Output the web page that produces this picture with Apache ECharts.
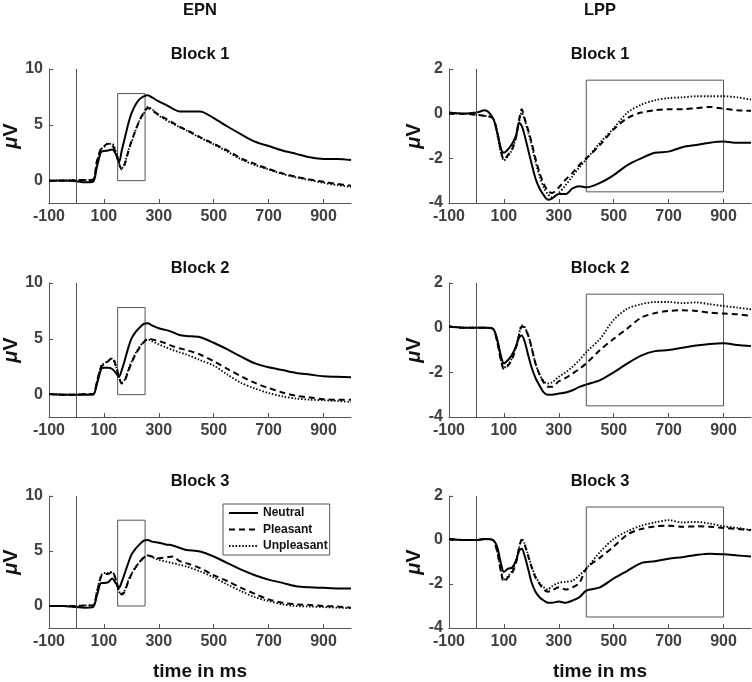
<!DOCTYPE html>
<html><head><meta charset="utf-8">
<script src="https://cdn.jsdelivr.net/npm/echarts@6/dist/echarts.min.js"></script>
<style>html,body{margin:0;padding:0;background:#fff}#c{width:752px;height:682px}</style>
</head><body><div id="c"></div>
<script>
// time points (ms)
const times = [-100,-50,0,30,60,75,90,100,115,130,145,155,165,175,190,200,215,230,245,260,275,300,325,350,375,400,450,500,550,600,650,700,750,800,850,900,950,1000];

// EPN
const epnB1Neutral    = [0,0.02,-0.05,-0.15,-0.1, 1.3,2.6,2.65,2.7,2.8, 2.3,1.65,2.7,3.7,5.2, 6.0,6.8,7.3,7.55,7.65, 7.45,7.1,6.8,6.45,6.2, 6.2,6.2,5.6,4.85,4.15, 3.5,3.1,2.7,2.4,2.1, 1.95,1.95,1.85];
const epnB1Pleasant   = [0,0,0.05,0.05,0.1, 1.8,2.9,3.1,3.3,3.2, 2.4,1.5,1.0,1.4,2.7, 3.5,4.5,5.4,6.1,6.5, 6.3,5.9,5.55,5.2,4.85, 4.55,3.9,3.3,2.7,2.0, 1.5,1.05,0.65,0.35,0.1, -0.1,-0.3,-0.45];
const epnB1Unpleasant = [0,0.03,0.05,0.05,0.1, 1.7,2.8,3.0,3.3,3.3, 2.5,1.6,1.1,1.5,2.8, 3.4,4.5,5.4,6.0,6.6, 6.4,5.85,5.45,5.1,4.8, 4.5,3.85,3.25,2.6,1.9, 1.4,1.0,0.6,0.3,0.05, -0.2,-0.4,-0.55];
const epnB2Neutral    = [0.05,0,0,0,0, 1.0,2.3,2.4,2.4,2.3, 1.9,1.6,2.2,3.0,4.3, 5.0,5.6,6.0,6.35,6.4, 6.2,5.95,5.8,5.6,5.35, 5.25,5.15,4.65,4.05,3.4, 2.8,2.45,2.2,1.95,1.8, 1.65,1.6,1.55];
const epnB2Pleasant   = [0.05,0,0,0.05,0.05, 1.2,2.5,2.7,3.0,3.3, 2.5,1.6,1.0,1.2,2.2, 2.8,3.6,4.2,4.7,5.0, 4.95,4.8,4.6,4.35,4.15, 4.0,3.6,3.0,2.3,1.65, 1.05,0.6,0.2,-0.1,-0.25, -0.4,-0.45,-0.45];
const epnB2Unpleasant = [0.05,0,0,0.05,0.05, 1.2,2.6,2.8,3.0,3.2, 2.4,1.5,1.1,1.3,2.3, 2.9,3.7,4.3,4.7,4.95, 4.8,4.5,4.25,4.0,3.8, 3.6,3.1,2.6,1.8,1.05, 0.55,0.15,-0.15,-0.35,-0.45, -0.5,-0.57,-0.65];
const epnB3Neutral    = [0,0,-0.1,-0.15,-0.1, 1.0,2.1,2.1,2.15,2.5, 2.0,1.65,2.2,2.9,4.0, 4.65,5.2,5.6,5.95,6.0, 5.85,5.75,5.6,5.5,5.3, 5.1,4.95,4.5,3.9,3.3, 2.8,2.4,2.1,1.8,1.7, 1.65,1.6,1.6];
const epnB3Pleasant   = [0,0,0,0.05,0.05, 1.3,2.7,2.9,2.9,3.1, 2.3,1.4,1.05,1.3,2.3, 2.85,3.5,4.0,4.4,4.6, 4.5,4.35,4.4,4.5,4.1, 3.9,3.45,2.8,2.25,1.65, 1.1,0.6,0.3,0.15,0.1, 0.0,-0.05,-0.15];
const epnB3Unpleasant = [0,0,0,0.05,0.05, 1.4,2.8,3.0,3.0,3.1, 2.2,1.3,1.15,1.4,2.4, 2.9,3.5,4.0,4.4,4.6, 4.45,4.2,4.05,3.9,3.75, 3.6,3.15,2.6,1.95,1.35, 0.8,0.45,0.15,0.0,-0.05, -0.1,-0.15,-0.2];

// LPP
const lppB1Neutral    = [0.05,0,0.05,0.15,-0.2, -0.8,-1.6,-1.75,-1.6,-1.35, -0.95,-0.4,-0.55,-0.95,-1.7, -2.2,-2.9,-3.35,-3.65,-3.85, -3.8,-3.6,-3.6,-3.35,-3.25, -3.3,-3.1,-2.75,-2.3,-2.0, -1.75,-1.7,-1.5,-1.4,-1.3, -1.25,-1.3,-1.3];
const lppB1Pleasant   = [0,0,-0.05,-0.1,-0.2, -0.8,-1.7,-2.05,-1.85,-1.6, -1.0,-0.3,0.2,-0.2,-0.8, -1.25,-2.0,-2.65,-3.15,-3.45, -3.55,-3.3,-2.95,-2.65,-2.3, -2.0,-1.4,-0.7,-0.2,0.05, 0.15,0.2,0.2,0.25,0.3, 0.22,0.15,0.13];
const lppB1Unpleasant = [0,0,-0.05,-0.1,-0.2, -0.9,-1.8,-2.1,-1.9,-1.6, -1.0,-0.4,0.05,-0.25,-0.9, -1.35,-2.15,-2.8,-3.3,-3.6, -3.75,-3.55,-3.2,-2.8,-2.4, -2.05,-1.3,-0.65,0.05,0.4, 0.6,0.7,0.73,0.78,0.78, 0.78,0.73,0.63];
const lppB2Neutral    = [0.05,0,0,0,-0.05, -0.5,-1.3,-1.6,-1.45,-1.2, -0.8,-0.45,-0.35,-0.6,-1.3, -1.75,-2.25,-2.6,-2.9,-3.0, -3.0,-2.95,-2.9,-2.8,-2.65, -2.55,-2.35,-2.0,-1.6,-1.25, -1.05,-1.0,-0.9,-0.8,-0.73, -0.7,-0.78,-0.82];
const lppB2Pleasant   = [0.05,0,0,0,-0.05, -0.6,-1.5,-1.85,-1.7,-1.4, -0.85,-0.35,0.05,0.0,-0.4, -0.85,-1.6,-2.1,-2.45,-2.65, -2.65,-2.4,-2.25,-2.05,-1.85, -1.6,-1.0,-0.5,-0.03,0.45, 0.65,0.75,0.78,0.75,0.67, 0.63,0.6,0.52];
const lppB2Unpleasant = [0.05,0,0,0,-0.05, -0.6,-1.5,-1.8,-1.65,-1.35, -0.8,-0.3,0.1,0.05,-0.4, -0.85,-1.6,-2.1,-2.4,-2.5, -2.45,-2.2,-2.0,-1.75,-1.45, -1.1,-0.5,0.35,0.85,1.05, 1.15,1.15,1.1,1.13,1.05, 0.97,0.9,0.82];
const lppB3Neutral    = [0.05,0,0,0.05,0, -0.3,-1.1,-1.45,-1.3,-1.25, -0.9,-0.5,-0.4,-0.7,-1.4, -1.9,-2.35,-2.6,-2.75,-2.85, -2.85,-2.8,-2.85,-2.75,-2.6, -2.3,-2.15,-1.75,-1.4,-1.05, -0.97,-0.85,-0.78,-0.68,-0.62, -0.65,-0.7,-0.75];
const lppB3Pleasant   = [0.05,0,0,0.05,0, -0.5,-1.5,-1.9,-1.7,-1.5, -1.0,-0.4,0.0,-0.2,-0.8, -1.2,-1.7,-2.0,-2.25,-2.35, -2.3,-2.15,-2.25,-2.15,-1.95, -1.3,-0.8,-0.3,0.25,0.5, 0.62,0.65,0.6,0.62,0.6, 0.55,0.5,0.45];
const lppB3Unpleasant = [0.05,0,0,0.05,0, -0.5,-1.4,-1.8,-1.65,-1.4, -0.9,-0.35,0.05,-0.15,-0.75, -1.15,-1.65,-1.95,-2.15,-2.25, -2.1,-1.95,-1.9,-1.85,-1.6, -1.3,-0.55,0.05,0.4,0.65, 0.8,0.9,0.8,0.82,0.75, 0.62,0.55,0.45];

// ticks and analysis windows [tStart, tEnd, vLow, vHigh]
const xTicks = [-100,100,300,500,700,900];
const epnYTicks = [0,5,10];
const lppYTicks = [-4,-2,0,2];
const epnWindow = [150,250,0,7.8];
const lppWindow = [400,900,-3.5,1.5];
const conditions = ['Neutral','Pleasant','Unpleasant'];
const blockTitles = ['Block 1','Block 2','Block 3'];

const panels = [
  {comp:'EPN', data:[epnB1Neutral,epnB1Pleasant,epnB1Unpleasant]},
  {comp:'LPP', data:[lppB1Neutral,lppB1Pleasant,lppB1Unpleasant]},
  {comp:'EPN', data:[epnB2Neutral,epnB2Pleasant,epnB2Unpleasant]},
  {comp:'LPP', data:[lppB2Neutral,lppB2Pleasant,lppB2Unpleasant]},
  {comp:'EPN', data:[epnB3Neutral,epnB3Pleasant,epnB3Unpleasant]},
  {comp:'LPP', data:[lppB3Neutral,lppB3Pleasant,lppB3Unpleasant]}
];

const FONT = 'Liberation Sans, Arial, sans-serif';
const AX = '#555';
const colLeft = [49, 449];
const rowTop = [69, 283, 496];
const gw = 302, gh = 134;
const lineStyles = [
  {color:'#000', width:2, type:'solid'},
  {color:'#000', width:2, type:[6,4]},
  {color:'#000', width:1.8, type:[1.5,1.8]}
];

const grids = [], xAxes = [], yAxes = [], series = [], graphics = [];
panels.forEach((p, i) => {
  const col = i % 2, row = Math.floor(i / 2);
  const isEpn = p.comp === 'EPN';
  grids.push({left: colLeft[col], top: rowTop[row], width: gw, height: gh});
  xAxes.push({
    gridIndex: i, type: 'value', min: -100, max: 1000,
    name: row === 2 ? 'time in ms' : '', nameLocation: 'middle', nameGap: 34,
    nameTextStyle: {fontFamily: FONT, fontWeight: 'bold', fontSize: 19, color: '#111'},
    axisLine: {show: true, onZero: false, lineStyle: {color: AX, width: 1}},
    axisTick: {show: true, inside: true, length: 4, customValues: xTicks, lineStyle: {color: AX}},
    axisLabel: {customValues: xTicks, color: '#404040', fontFamily: FONT, fontWeight: 'bold', fontSize: 16, margin: 6},
    splitLine: {show: false}
  });
  const yt = isEpn ? epnYTicks : lppYTicks;
  yAxes.push({
    gridIndex: i, type: 'value', min: isEpn ? -2 : -4, max: isEpn ? 10 : 2,
    name: '{i|μ}V', nameLocation: 'middle', nameGap: 22, nameRotate: 90,
    nameTextStyle: {fontFamily: FONT, fontWeight: 'bold', fontSize: 20, color: '#111',
      rich: {i: {fontFamily: FONT, fontWeight: 'bold', fontStyle: 'italic', fontSize: 20, color: '#111'}}},
    axisLine: {show: true, onZero: false, lineStyle: {color: AX, width: 1}},
    axisTick: {show: true, inside: true, length: 4, customValues: yt, lineStyle: {color: AX}},
    axisLabel: {customValues: yt, color: '#404040', fontFamily: FONT, fontWeight: 'bold', fontSize: 16, margin: 6},
    splitLine: {show: false}
  });
  const w = isEpn ? epnWindow : lppWindow;
  p.data.forEach((arr, k) => {
    const s = {
      type: 'line', name: conditions[k], xAxisIndex: i, yAxisIndex: i,
      data: times.map((t, j) => [t, arr[j]]),
      showSymbol: false, symbol: 'none', smooth: 0.3, silent: true,
      lineStyle: lineStyles[k], z: 3 + k
    };
    if (k === 0) {
      s.markLine = {silent: true, symbol: ['none','none'], label: {show: false},
        lineStyle: {color: AX, width: 1, type: 'solid'}, data: [{xAxis: 0}], animation: false};
      s.markArea = {silent: true, itemStyle: {color: 'rgba(0,0,0,0)', borderColor: AX, borderWidth: 1},
        data: [[{xAxis: w[0], yAxis: w[2]}, {xAxis: w[1], yAxis: w[3]}]]};
    }
    series.push(s);
  });
  graphics.push({type: 'text', x: colLeft[col] + gw / 2, y: rowTop[row] - 15,
    style: {text: blockTitles[row], font: 'bold 16.5px ' + FONT, fill: '#111', textAlign: 'center', textVerticalAlign: 'middle'}});
});
graphics.push({type: 'text', x: colLeft[0] + gw / 2, y: 10,
  style: {text: 'EPN', font: 'bold 16.5px ' + FONT, fill: '#111', textAlign: 'center', textVerticalAlign: 'middle'}});
graphics.push({type: 'text', x: colLeft[1] + gw / 2, y: 10,
  style: {text: 'LPP', font: 'bold 16.5px ' + FONT, fill: '#111', textAlign: 'center', textVerticalAlign: 'middle'}});

const chart = echarts.init(document.getElementById('c'), null, {renderer: 'canvas'});
chart.setOption({
  animation: false,
  backgroundColor: '#fff',
  grid: grids, xAxis: xAxes, yAxis: yAxes, series: series,
  graphic: graphics,
  legend: {
    data: conditions, orient: 'vertical', left: 223, top: 504,
    itemWidth: 29, itemHeight: 12, itemGap: 4.5,
    padding: [3, 2, 3, 5],
    borderColor: AX, borderWidth: 1, backgroundColor: '#fff',
    selectedMode: false,
    itemStyle: {opacity: 0},
    textStyle: {fontFamily: FONT, fontWeight: 'bold', fontSize: 12, color: '#111'}
  }
});
</script></body></html>
